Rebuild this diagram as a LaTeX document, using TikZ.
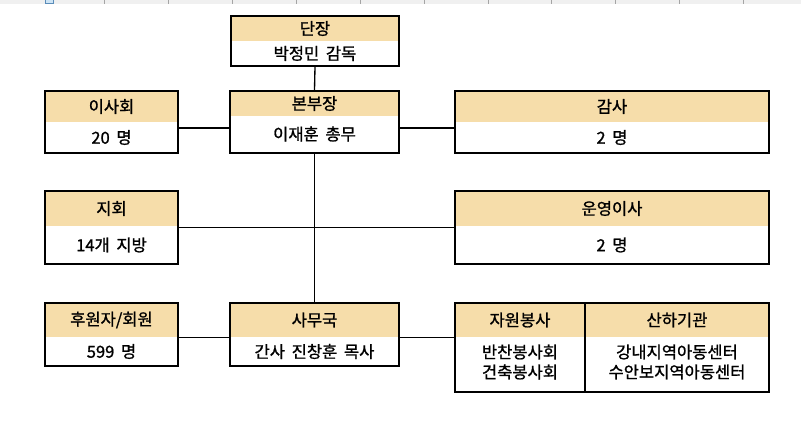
\documentclass[tikz,border=0pt]{standalone}
\usepackage{fontspec}
\setmainfont{Noto Sans CJK KR}[FakeBold=1.1, WordSpace=1.8]
\usetikzlibrary{calc}
\definecolor{hdr}{RGB}{246,221,170}
\definecolor{stripgrey}{RGB}{240,240,240}
\definecolor{tickgrey}{RGB}{165,165,165}
\definecolor{iconfill}{RGB}{205,228,245}
\definecolor{iconline}{RGB}{90,140,185}
\tikzset{
  orgbox/.style={draw=black, line width=1.2pt, inner sep=0pt, fill=white,
    path picture={\fill[hdr] (path picture bounding box.north west) rectangle ([yshift=-#1*0.75pt]path picture bounding box.north east);}},
  lbl/.style={font=\fontsize{12.4pt}{14pt}\selectfont, inner sep=0pt, anchor=center},
  conn/.style={draw=black, line width=1pt},
  divline/.style={draw=black, line width=1.2pt},
}
\begin{document}
\begin{tikzpicture}[x=0.75pt, y=-0.75pt]
\useasboundingbox (0,0) rectangle (801,443);
% spreadsheet strip at top
\fill[stripgrey] (0,0) rectangle (801,4);
\foreach \tx in {104,168,232,296,360,424,488,551,615,679,743}
  \draw[tickgrey, line width=0.6pt] (\tx,0) -- (\tx,4);
\draw[iconline, fill=iconfill, line width=0.5pt] (45,-1) rectangle (53,3);

% boxes
\node[orgbox=25, minimum width=168*0.75pt, minimum height=50*0.75pt] (danjang) at (315,41) {};
\node[orgbox=25, minimum width=169*0.75pt, minimum height=62*0.75pt] (bonbu) at (314.5,122) {};
\node[orgbox=31, minimum width=133*0.75pt, minimum height=62*0.75pt] (isa) at (111.5,122) {};
\node[orgbox=31, minimum width=314*0.75pt, minimum height=62*0.75pt] (gamsa) at (612,122) {};
\node[orgbox=35, minimum width=133*0.75pt, minimum height=73*0.75pt] (jihoe) at (111.5,227.5) {};
\node[orgbox=35, minimum width=314*0.75pt, minimum height=73*0.75pt] (unyoung) at (612,227.5) {};
\node[orgbox=34, minimum width=133*0.75pt, minimum height=63*0.75pt] (huwon) at (111.5,334.5) {};
\node[orgbox=34, minimum width=169*0.75pt, minimum height=63*0.75pt] (samu) at (314.5,334.5) {};
\node[orgbox=34, minimum width=314*0.75pt, minimum height=89*0.75pt] (jawon) at (612,347.5) {};
\draw[divline] (585,303) coordinate (divtop) -- (585,392) coordinate (divbot);

% texts
\node[lbl] (t1a) at (315,28.5) {단장};
\node[lbl] (t1b) at (315,53.5) {박정민 감독};
\node[lbl] (t2a) at (314.5,103.5) {본부장};
\node[lbl] (t2b) at (314.5,134) {이재훈 총무};
\node[lbl] (t3a) at (111.5,106.5) {이사회};
\node[lbl] (t3b) at (111.5,137.5) {20 명};
\node[lbl] (t4a) at (612,106.5) {감사};
\node[lbl] (t4b) at (612,137.5) {2 명};
\node[lbl] (t5a) at (111.5,208.5) {지회};
\node[lbl] (t5b) at (111.5,245) {14개 지방};
\node[lbl] (t6a) at (612,208.5) {운영이사};
\node[lbl] (t6b) at (612,245) {2 명};
\node[lbl] (t7a) at (111.5,320) {후원자/회원};
\node[lbl] (t7b) at (111.5,351.5) {599 명};
\node[lbl] (t8a) at (314.5,320) {사무국};
\node[lbl] (t8b) at (314.5,351.5) {간사 진창훈 목사};
\node[lbl] (t9a) at (520,320) {자원봉사};
\node[lbl] (t9b) at (520,352) {반찬봉사회};
\node[lbl] (t9c) at (520,372) {건축봉사회};
\node[lbl] (t10a) at (677,320) {산하기관};
\node[lbl] (t10b) at (677,352) {강내지역아동센터};
\node[lbl] (t10c) at (677,372) {수안보지역아동센터};

% connectors
\draw[conn] (danjang.south) -- (bonbu.north);
\draw[conn] ([yshift=-4.5pt]isa.east) -- ([yshift=-4.5pt]bonbu.west);
\draw[conn] ([yshift=-4.5pt]bonbu.east) -- ([yshift=-4.5pt]gamsa.west);
\draw[conn] (bonbu.south) -- (samu.north);
\draw[conn] (jihoe.east) -- (unyoung.west);
\draw[conn] ([yshift=-2pt]huwon.east) -- ([yshift=-2pt]samu.west);
\draw[conn] ([yshift=7.75pt]jawon.west -| samu.east) -- ([yshift=7.75pt]jawon.west);
\end{tikzpicture}
\end{document}
